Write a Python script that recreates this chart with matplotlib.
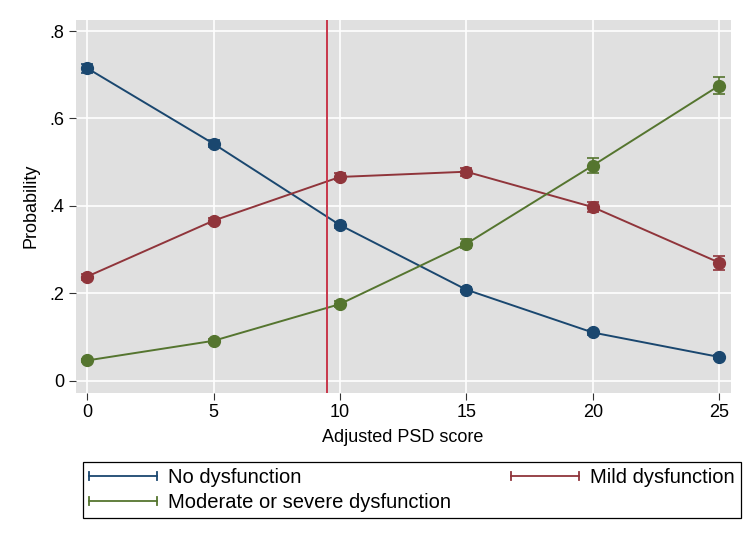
import matplotlib
matplotlib.use('Agg')
import matplotlib.pyplot as plt
from matplotlib.legend_handler import HandlerBase
from matplotlib.lines import Line2D
import numpy as np

plt.rcParams['font.family'] = ['Liberation Sans', 'DejaVu Sans']

# Adjusted PSD score and predicted probabilities
psd_score = [0, 5, 10, 15, 20, 25]
no_dysf = [0.715, 0.542, 0.356, 0.208, 0.110, 0.054]
no_dysf_err = [0.010, 0.008, 0.007, 0.006, 0.006, 0.005]
mild_dysf = [0.238, 0.366, 0.466, 0.478, 0.397, 0.270]
mild_dysf_err = [0.007, 0.007, 0.008, 0.009, 0.012, 0.016]
mod_dysf = [0.046, 0.091, 0.175, 0.313, 0.492, 0.675]
mod_dysf_err = [0.004, 0.005, 0.007, 0.010, 0.018, 0.020]
cutoff = 9.5

series_names = ['No dysfunction', 'Mild dysfunction', 'Moderate or severe dysfunction']
BLUE = '#1a476f'
RED = '#90353b'
GREEN = '#55752f'
CUT_RED = '#c8374a'


class CapHandler(HandlerBase):
    # legend key: horizontal line with a cap at each end
    def create_artists(self, legend, orig_handle, xdescent, ydescent,
                       width, height, fontsize, trans):
        c = orig_handle.get_color()
        y = height / 2 - ydescent
        x0, x1 = -xdescent, width - xdescent
        h = height * 0.3
        line = Line2D([x0, x1], [y, y], color=c, lw=1.3)
        capl = Line2D([x0, x0], [y - h, y + h], color=c, lw=1.3)
        capr = Line2D([x1, x1], [y - h, y + h], color=c, lw=1.3)
        for a in (line, capl, capr):
            a.set_transform(trans)
        return [line, capl, capr]


fig = plt.figure(figsize=(7.5, 5.46), dpi=100)
ax = fig.add_axes([0.101, 0.281, 0.873, 0.683])
ax.set_facecolor('#e0e0e0')

for ys, es, col in [(no_dysf, no_dysf_err, BLUE),
                    (mild_dysf, mild_dysf_err, RED),
                    (mod_dysf, mod_dysf_err, GREEN)]:
    ax.errorbar(psd_score, ys, yerr=es, color=col, lw=1.4, marker='o',
                markersize=8.5, capsize=4, elinewidth=1.2, capthick=1.2, zorder=3)

ax.axvline(cutoff, color=CUT_RED, lw=1.4, zorder=4)

ax.set_xlim(-0.45, 25.45)
ax.set_ylim(-0.0275, 0.826)
ax.set_xticks([0, 5, 10, 15, 20, 25])
ax.set_yticks([0, 0.2, 0.4, 0.6, 0.8])
ax.set_yticklabels(['0', '.2', '.4', '.6', '.8'])
ax.grid(True, color='white', lw=1.2)
ax.set_axisbelow(True)
for s in ax.spines.values():
    s.set_visible(False)
ax.tick_params(axis='both', length=5, width=0.8, color='#333333', labelsize=13, pad=3)
ax.set_xlabel('Adjusted PSD score', fontsize=13, labelpad=6)
ax.set_ylabel('Probability', fontsize=13, labelpad=7)

# matplotlib fills legend columns first, so order handles to get rows:
# row 1 = No / Mild, row 2 = Moderate or severe
colors = [BLUE, RED, GREEN]
order = [0, 2, 1]
handles = [Line2D([], [], color=colors[i]) for i in order]
labels = [series_names[i] for i in order]
leg = fig.legend(handles, labels, ncol=2, mode='expand',
                 loc='lower left', bbox_to_anchor=(0.110, 0.0513, 0.878, 0.095),
                 borderaxespad=0,
                 fontsize=14.5, fancybox=False, framealpha=1, edgecolor='black',
                 handler_map={Line2D: CapHandler()}, handlelength=3.4,
                 handletextpad=0.55, borderpad=0.3, labelspacing=0.3)
leg.get_frame().set_linewidth(0.9)

fig.savefig('out.png', dpi=100)
